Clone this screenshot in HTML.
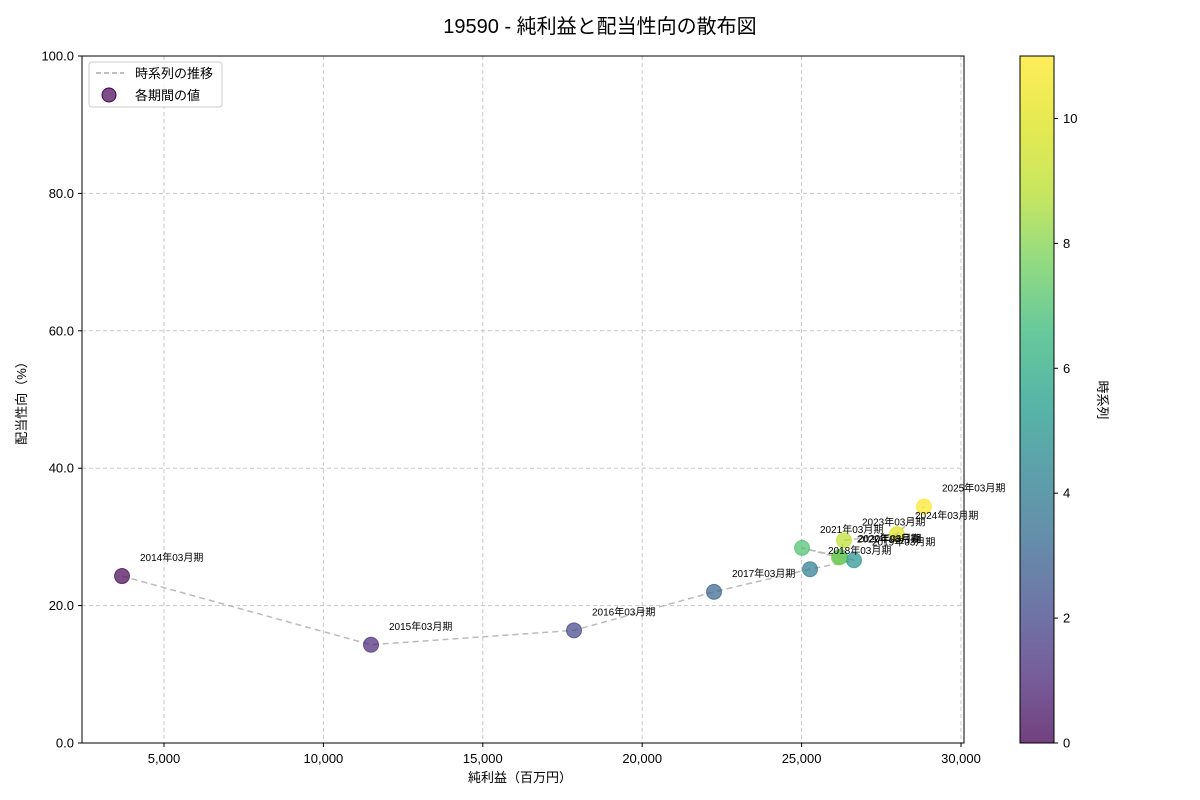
<!DOCTYPE html>
<html><head><meta charset="utf-8">
<style>
html,body{margin:0;padding:0;background:#fff;}
svg{display:block;font-family:"Liberation Sans","Noto Sans CJK JP",sans-serif;}
</style></head>
<body>
<svg id="chart" width="1200" height="800" viewBox="0 0 1200 800">
<defs>
<linearGradient id="viridis" x1="0" y1="1" x2="0" y2="0">
<stop offset="0" stop-color="#440154"/><stop offset="0.1" stop-color="#482878"/>
<stop offset="0.2" stop-color="#3e4989"/><stop offset="0.3" stop-color="#31688e"/>
<stop offset="0.4" stop-color="#26828e"/><stop offset="0.5" stop-color="#1f9e89"/>
<stop offset="0.6" stop-color="#35b779"/><stop offset="0.7" stop-color="#6ece58"/>
<stop offset="0.8" stop-color="#b5de2b"/><stop offset="0.9" stop-color="#dde318"/>
<stop offset="1" stop-color="#fde725"/>
</linearGradient>
</defs>
<text x="600" y="33" text-anchor="middle" font-size="20" fill="#000">19590 - 純利益と配当性向の散布図</text>
<g id="grid"></g>
<g id="line"></g>
<g id="points"></g>
<g id="labels"></g>
<rect x="82" y="56" width="882" height="687" fill="none" stroke="#000" stroke-width="1"/>
<g id="xticks"></g>
<g id="yticks"></g>
<text x="520" y="782" text-anchor="middle" font-size="13">純利益（百万円）</text>
<text transform="translate(26,400) rotate(-90)" text-anchor="middle" font-size="13">配当性向（%）</text>
<g>
<rect x="89" y="62" width="133" height="45" rx="3" fill="#fff" fill-opacity="0.85" stroke="#ccc"/>
<line x1="96" y1="73" x2="124" y2="73" stroke="#aaa" stroke-width="1.5" stroke-dasharray="5,3"/>
<text x="135" y="78" font-size="13">時系列の推移</text>
<circle cx="109" cy="95" r="7" fill="#440154" fill-opacity="0.7" stroke="#440154"/>
<text x="135" y="100" font-size="13">各期間の値</text>
</g>
<rect x="1020" y="56" width="34" height="687" fill="url(#viridis)" opacity="0.75"/>
<rect x="1020" y="56" width="34" height="687" fill="none" stroke="#000"/>
<g id="cbticks"></g>
<text transform="translate(1098,400) rotate(90)" text-anchor="middle" font-size="13">時系列</text>
</svg>
<script>
const periods=["2014年03月期","2015年03月期","2016年03月期","2017年03月期","2018年03月期","2019年03月期","2020年03月期","2021年03月期","2022年03月期","2023年03月期","2024年03月期","2025年03月期"];
const netIncome=[3683,11493,17861,22252,25263,26644,26205,25013,26170,26330,27992,28839];
const payoutRatio=[24.3,14.3,16.4,22.0,25.3,26.6,27.1,28.4,27.0,29.5,30.4,34.4];
const xTicks=[5000,10000,15000,20000,25000,30000];
const yTicks=[0,20,40,60,80,100];
const cbTicks=[0,2,4,6,8,10];
const NS="http://www.w3.org/2000/svg";
const X=v=>164+(v-5000)*0.03188;
const Y=v=>743-v*6.87;
const CB=v=>743-v*687/11;
const vir=["#440154","#482878","#3e4989","#31688e","#26828e","#1f9e89","#35b779","#6ece58","#b5de2b","#fde725"];
const stops=[[68,1,84],[72,40,120],[62,73,137],[49,104,142],[38,130,142],[31,158,137],[53,183,121],[110,206,88],[181,222,43],[221,227,24],[253,231,37]];
function color(t){const p=t*10,i=Math.min(9,Math.floor(p)),f=p-i,a=stops[i],b=stops[i+1];return `rgb(${a.map((c,k)=>Math.round(c+(b[k]-c)*f)).join(',')})`;}
function el(tag,attrs,parent){const e=document.createElementNS(NS,tag);for(const k in attrs)e.setAttribute(k,attrs[k]);parent.appendChild(e);return e;}
const grid=document.getElementById('grid'),xt=document.getElementById('xticks'),yt=document.getElementById('yticks');
xTicks.forEach(v=>{
 const g=el('line',{x1:X(v),x2:X(v),y1:56,y2:743,stroke:'#c8c8c8','stroke-dasharray':'4,3'},grid);
 
 
 const t=el('line',{x1:X(v),x2:X(v),y1:743,y2:747,stroke:'#000'},xt);
 
 
 const l=el('text',{x:X(v),y:763,'text-anchor':'middle','font-size':13},xt);
 l.textContent=v.toLocaleString('en-US');
 
 
});
yTicks.forEach(v=>{
 const g=el('line',{x1:82,x2:964,y1:Y(v),y2:Y(v),stroke:'#c8c8c8','stroke-dasharray':'4,3'},grid);
 
 
 const t=el('line',{x1:78,x2:82,y1:Y(v),y2:Y(v),stroke:'#000'},yt);
 
 
 const l=el('text',{x:74,y:Y(v)+4.5,'text-anchor':'end','font-size':13},yt);
 l.textContent=v.toFixed(1);
 
 
});
const cb=document.getElementById('cbticks');
cbTicks.forEach(v=>{
 const t=el('line',{x1:1054,x2:1058,y1:CB(v),y2:CB(v),stroke:'#000'},cb);
 
 
 const l=el('text',{x:1063,y:CB(v)+4.5,'font-size':13},cb);
 l.textContent=v;
 
 
});
const pl=el('polyline',{points:netIncome.map((v,i)=>X(v)+','+Y(payoutRatio[i])).join(' '),fill:'none',stroke:'#aaa','stroke-width':1.5,'stroke-dasharray':'6,4','stroke-opacity':0.8},document.getElementById('line'));


const pts=document.getElementById('points'),lbs=document.getElementById('labels');
netIncome.forEach((v,i)=>{
 const c=color(i/11);
 const p=el('circle',{cx:X(v),cy:Y(payoutRatio[i]),r:7.5,fill:c,'fill-opacity':0.7,stroke:c,'stroke-opacity':0.7},pts);
 
 
 const l=el('text',{x:X(v)+18,y:Y(payoutRatio[i])-15,'font-size':10},lbs);
 l.textContent=periods[i];
 
 
});
</script>
</body></html>
